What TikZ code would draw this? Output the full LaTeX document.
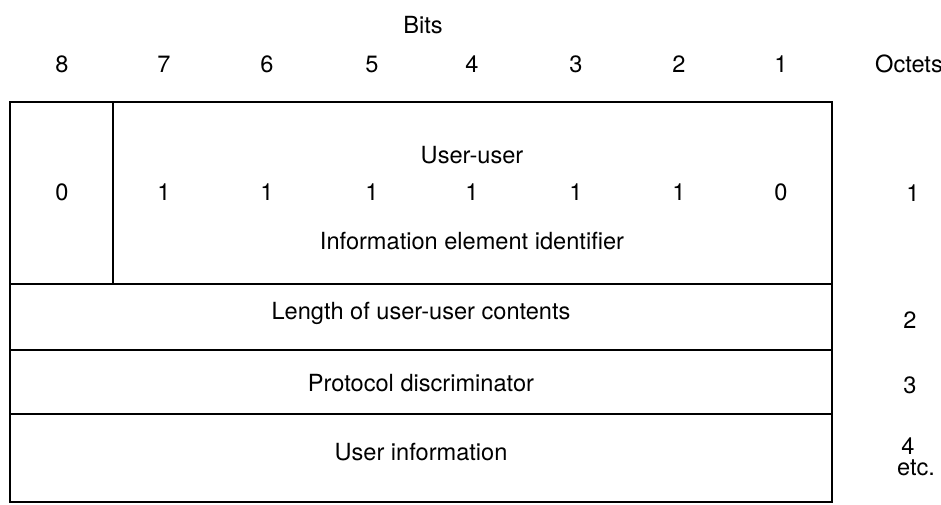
\documentclass[tikz,border=0pt]{standalone}
\usepackage{fontspec}
\setmainfont{TeX Gyre Heros}
\begin{document}
\begin{tikzpicture}[x=0.5pt,y=-0.5pt,font=\fontsize{11.8}{14}\selectfont]
        \useasboundingbox (0,0) rectangle (941,504);
        %Header
        \node (bits) at (423,25) {Bits};
        \node (b8) at (62,64) {8};
        \node (b7) at (164,64) {7};
        \node (b6) at (267,64) {6};
        \node (b5) at (372,64) {5};
        \node (b4) at (472,64) {4};
        \node (b3) at (576,64) {3};
        \node (b2) at (679,64) {2};
        \node (b1) at (781,64) {1};
        \node (octets) at (909,64) {Octets};
        
        %Frame
        \draw[-,line width=1pt,black] (10,102) rectangle (832,502);
        \draw[-,line width=1pt,black] (113,102) -- (113,284);
        \draw[-,line width=1pt,black] (10,284) -- (832,284);
        \draw[-,line width=1pt,black] (10,350) -- (832,350);
        \draw[-,line width=1pt,black] (10,414) -- (832,414);
        
        %Octet 1
        \node (uu) at (472,155) {User-user};
        \node (v8) at (62,192) {0};
        \node (v7) at (164,192) {1};
        \node (v6) at (267,192) {1};
        \node (v5) at (372,192) {1};
        \node (v4) at (472,192) {1};
        \node (v3) at (576,192) {1};
        \node (v2) at (679,192) {1};
        \node (v1) at (781,192) {0};
        \node (iei) at (472,241) {Information element identifier};
        \node (o1) at (913,193) {1};
        
        %Octets 2 to 4
        \node (len) at (421,313) {Length of user-user contents};
        \node (o2) at (910,320) {2};
        \node (pd) at (421,383) {Protocol discriminator};
        \node (o3) at (910,385) {3};
        \node (ui) at (421,452) {User information};
        \node (o4) at (908,446) {4};
        \node (etc) at (916,468) {etc.};
        
    \end{tikzpicture}
\end{document}
